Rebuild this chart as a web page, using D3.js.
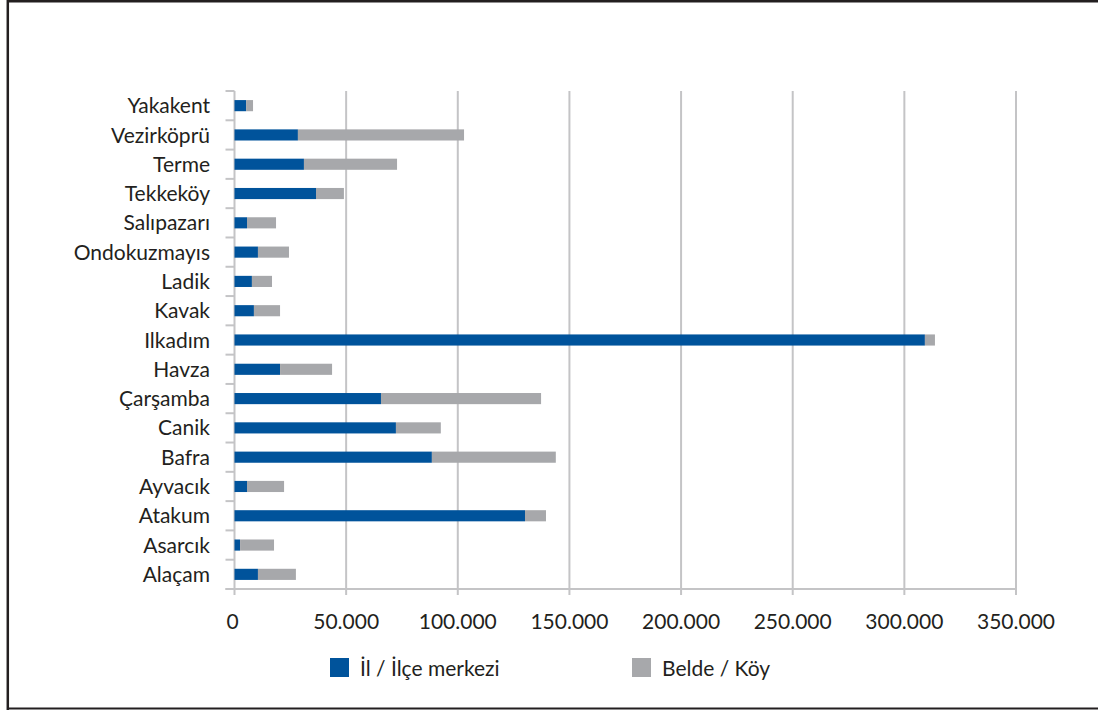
<!DOCTYPE html>
<html>
<head>
<meta charset="utf-8">
<script src="https://cdn.jsdelivr.net/npm/d3@7/dist/d3.min.js"></script>
<style>
  html, body { margin: 0; padding: 0; background: #fff; }
  svg { display: block; }
  text { font-family: Lato, "Open Sans", sans-serif; fill: #231f20; }
</style>
</head>
<body>
<svg id="chart" width="1098" height="710"></svg>
<script>
// Categories, top to bottom as drawn
const categories = ["Yakakent", "Vezirköprü", "Terme", "Tekkeköy", "Salıpazarı", "Ondokuzmayıs", "Ladik", "Kavak", "Ilkadım", "Havza", "Çarşamba", "Canik", "Bafra", "Ayvacık", "Atakum", "Asarcık", "Alaçam"];
// İl / İlçe merkezi (centre population)
const merkezValues = [5200, 28400, 31100, 36500, 5600, 10500, 7800, 8700, 309200, 20400, 65600, 72300, 88400, 5600, 130100, 2500, 10500];
// Belde / Köy (town / village population)
const beldeValues = [3100, 74400, 41700, 12500, 13000, 13900, 9000, 11700, 4500, 23300, 71700, 20100, 55500, 16600, 9400, 15200, 17000];
const seriesNames = ["İl / İlçe merkezi", "Belde / Köy"];
const xTicks = [0, 50000, 100000, 150000, 200000, 250000, 300000, 350000];

const colors = ["#00539b", "#a7a8ab"];
const gridColor = "#c4c4c6";

const svg = d3.select("#chart");

// frame
svg.append("line").attr("x1", 7).attr("x2", 1098).attr("y1", 1.2).attr("y2", 1.2)
  .attr("stroke", "#231f20").attr("stroke-width", 2.5);
svg.append("line").attr("x1", 7.8).attr("x2", 7.8).attr("y1", 0).attr("y2", 710)
  .attr("stroke", "#231f20").attr("stroke-width", 2.5);
svg.append("line").attr("x1", 7).attr("x2", 1098).attr("y1", 708.6).attr("y2", 708.6)
  .attr("stroke", "#231f20").attr("stroke-width", 2);

const plot = { left: 234.5, right: 1016, top: 91, bottom: 589 };

const x = d3.scaleLinear().domain([0, 350000]).range([plot.left, plot.right]);
const y = d3.scaleBand().domain(categories).range([plot.top, plot.bottom])
  .paddingInner(0.62).paddingOuter(0.31);
const step = y.step();

const locale = d3.formatLocale({ decimal: ",", thousands: ".", grouping: [3], currency: ["", ""] });
const fmt = locale.format(",");

// vertical gridlines
svg.append("g").selectAll("line").data(xTicks.slice(1)).join("line")
  .attr("x1", d => x(d)).attr("x2", d => x(d))
  .attr("y1", plot.top).attr("y2", plot.bottom + 6)
  .attr("stroke", gridColor).attr("stroke-width", 2);

// bottom axis line
svg.append("line").attr("x1", plot.left - 9).attr("x2", plot.right + 1)
  .attr("y1", plot.bottom).attr("y2", plot.bottom)
  .attr("stroke", gridColor).attr("stroke-width", 2);

// left axis line
svg.append("line").attr("x1", plot.left).attr("x2", plot.left)
  .attr("y1", plot.top).attr("y2", plot.bottom + 6)
  .attr("stroke", gridColor).attr("stroke-width", 2);

// category tick marks at band boundaries
const boundaries = d3.range(categories.length + 1).map(i => plot.top + i * step);
svg.append("g").selectAll("line").data(boundaries).join("line")
  .attr("x1", plot.left - 9).attr("x2", plot.left)
  .attr("y1", d => d).attr("y2", d => d)
  .attr("stroke", gridColor).attr("stroke-width", 2);

// bars
const stackData = categories.map((c, i) => ({ cat: c, m: merkezValues[i], b: beldeValues[i] }));
const stack = d3.stack().keys(["m", "b"])(stackData);
svg.append("g").selectAll("g").data(stack).join("g")
  .attr("fill", (d, i) => colors[i])
  .selectAll("rect").data(d => d).join("rect")
  .attr("x", d => x(d[0]))
  .attr("width", d => x(d[1]) - x(d[0]))
  .attr("y", d => y(d.data.cat))
  .attr("height", y.bandwidth());

// category labels
svg.append("g").selectAll("text").data(categories).join("text")
  .attr("x", 210)
  .attr("y", d => y(d) + y.bandwidth() / 2)
  .attr("dy", "0.36em")
  .attr("text-anchor", "end")
  .attr("font-size", 21)
  .text(d => d);

// x tick labels
svg.append("g").selectAll("text").data(xTicks).join("text")
  .attr("x", d => x(d) - (d === 0 ? 2 : 0))
  .attr("y", 629)
  .attr("text-anchor", "middle")
  .attr("font-size", 21)
  .text(d => fmt(d));

// legend
const legendX = [330, 632];
const lg = svg.append("g").selectAll("g").data(seriesNames).join("g")
  .attr("transform", (d, i) => `translate(${legendX[i]},658)`);
lg.append("rect").attr("width", 19).attr("height", 19).attr("fill", (d, i) => colors[i]);
lg.append("text").attr("x", 30).attr("y", 18).attr("font-size", 21).text(d => d);
</script>
</body>
</html>
